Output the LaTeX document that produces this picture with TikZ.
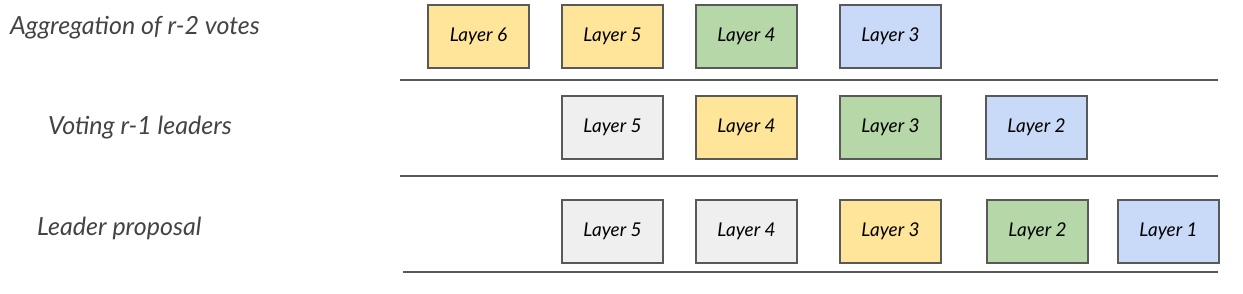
\documentclass[tikz,border=0pt]{standalone}
\usepackage{fontspec}
\setmainfont{Lato}
\usetikzlibrary{positioning}
\definecolor{layeryellow}{HTML}{FFE599}
\definecolor{layergreen}{HTML}{B6D7A8}
\definecolor{layerblue}{HTML}{C9DAF8}
\definecolor{layergray}{HTML}{EFEFEF}
\definecolor{edgegray}{HTML}{595959}
\definecolor{textgray}{HTML}{434343}
\tikzset{
  layer/.style={
    draw=edgegray,
    rectangle,
    line width=1.5pt,
    outer sep=0pt,
    minimum width=101pt,
    minimum height=63pt,
    inner sep=0pt,
    font=\fontsize{19}{21}\selectfont\itshape
  },
  stage/.style={
    anchor=base west,
    inner sep=0pt,
    text=textgray,
    font=\fontsize{25}{28}\selectfont\itshape
  },
  rowline/.style={
    draw=edgegray,
    line width=1.5pt
  }
}

\begin{document}
\begin{tikzpicture}[x=1pt,y=-1pt,node distance=33pt]
\useasboundingbox (0,0) rectangle (1243,294);

% aggregation row
\node[layer, fill=layeryellow] (a6) at (478.5,36.5) {Layer 6};
\node[layer, fill=layeryellow, right=of a6] (a5) {Layer 5};
\node[layer, fill=layergreen, right=of a5] (a4) {Layer 4};
\node[layer, fill=layerblue, right=43pt of a4] (a3) {Layer 3};

% voting row
\node[layer, fill=layergray, below=28pt of a5] (v5) {Layer 5};
\node[layer, fill=layeryellow, right=of v5] (v4) {Layer 4};
\node[layer, fill=layergreen, right=43pt of v4] (v3) {Layer 3};
\node[layer, fill=layerblue, right=45pt of v3] (v2) {Layer 2};

% proposal row
\node[layer, fill=layergray, below=41pt of v5] (p5) {Layer 5};
\node[layer, fill=layergray, right=of p5] (p4) {Layer 4};
\node[layer, fill=layeryellow, right=43pt of p4] (p3) {Layer 3};
\node[layer, fill=layergreen, right=46pt of p3] (p2) {Layer 2};
\node[layer, fill=layerblue, right=30pt of p2] (p1) {Layer 1};

\node[stage] (agg) at (10,35) {Aggregation of r-2 votes};
\node[stage] (vote) at (48,135) {Voting r-1 leaders};
\node[stage] (prop) at (37,236) {Leader proposal};

\coordinate (s1) at (400,80);
\coordinate (e1) at (1218,80);
\coordinate (s2) at (400,176);
\coordinate (e2) at (1218,176);
\coordinate (s3) at (403,272);
\coordinate (e3) at (1218,272);
\draw[rowline] (s1) -- (e1);
\draw[rowline] (s2) -- (e2);
\draw[rowline] (s3) -- (e3);

\end{tikzpicture}
\end{document}
